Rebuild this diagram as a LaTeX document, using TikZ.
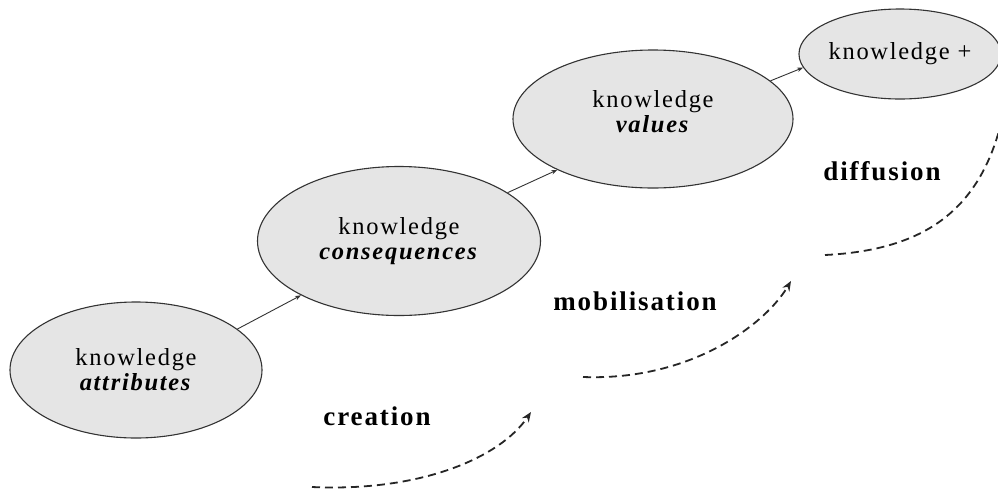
\documentclass[tikz,border=0pt]{standalone}
\usepackage{fontspec}
\setmainfont[LetterSpace=7]{Liberation Serif}
\usetikzlibrary{shapes.geometric,arrows.meta}
\begin{document}
\begin{tikzpicture}[x=1pt,y=-1pt,
  stage/.style={ellipse, draw=black!80, line width=1.1pt, fill=gray!20!white,
    inner sep=0pt, align=center, font=\fontsize{24.5}{27}\selectfont},
  link/.style={draw=black!80, line width=0.9pt, -{Stealth[length=6pt,width=4.5pt]}},
  flow/.style={draw=black!85, line width=1.8pt, dash pattern=on 8pt off 5pt,
    -{Stealth[length=10pt,width=8pt]}},
  phase/.style={font=\fontsize{27}{30}\selectfont\bfseries}]
  \clip (0,0) rectangle (998,496);
  \fill[white] (0,0) rectangle (998,496);

  % the four knowledge stages
  \node[stage, minimum width=252pt, minimum height=136pt] (attr) at (136,370)
    {knowledge\\[-2pt]\textbf{\textit{attributes}}};
  \node[stage, minimum width=283pt, minimum height=149pt] (cons) at (399,241)
    {knowledge\\[-2pt]\textbf{\textit{consequences}}};
  \node[stage, minimum width=280pt, minimum height=138pt] (vals) at (653,119)
    {knowledge\\[-2pt]\textbf{\textit{values}}\\[-12pt]};
  \node[stage, minimum width=194pt, minimum height=90pt] (plus) at (900,54)
    {knowledge +};

  % links between stages
  \draw[link] (attr.22) -- (cons.209);
  \draw[link] (cons.24) -- (vals.208);
  \draw[link] (vals.18) -- (plus.188);

  % phase labels
  \node[phase] (creation) at (377,416) {creation};
  \node[phase] (mobil) at (635,301) {mobilisation};
  \node[phase] (diff) at (882,171) {diffusion};

  % dashed phase arcs
  \coordinate (c0) at (312,487);
  \coordinate (c1) at (531,412);
  \coordinate (m0) at (583,377);
  \coordinate (m1) at (791,281);
  \coordinate (d0) at (825,255);
  \coordinate (d1) at (1006,100);
  \draw[flow] (c0) .. controls (420,492) and (500,458) .. (c1);
  \draw[flow] (m0) .. controls (690,381) and (765,325) .. (m1);
  \draw[flow] (d0) .. controls (925,250) and (985,210) .. (d1);
\end{tikzpicture}
\end{document}
